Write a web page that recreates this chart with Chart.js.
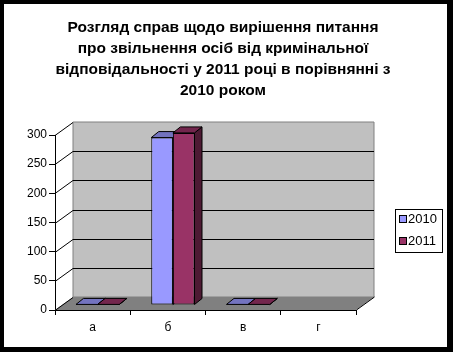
<!DOCTYPE html>
<html>
<head>
<meta charset="utf-8">
<script src="https://cdn.jsdelivr.net/npm/chart.js@4.4.1/dist/chart.umd.min.js"></script>
<style>
  html, body { margin: 0; padding: 0; background: #fff; }
  canvas { display: block; }
</style>
</head>
<body>
<canvas id="chart" width="453" height="352"></canvas>
<script>
// chart data
const categories = ['а', 'б', 'в', 'г'];
const seriesNames = ['2010', '2011'];
const values2010 = [1, 287, 1, null];
const values2011 = [1, 295, 1, null];
const titleLines = [
    'Розгляд справ щодо вирішення питання',
    'про звільнення осіб від кримінальної',
    'відповідальності у 2011 році в порівнянні з',
    '2010 роком'
];

const FONT = "'Liberation Sans', Arial, sans-serif";
const DEPTH_X = 18, DEPTH_Y = 13;   // front plane -> back wall
const BAR_X = 5, BAR_Y = 5;         // front plane -> bar plane
const BAR_DX = 7.5, BAR_DY = 6;     // depth of a single bar

const faceColors = [
    { front: '#9999FF', top: '#7373BF', side: '#4D4D80' },
    { front: '#993366', top: '#73264D', side: '#4D1A33' }
];

function poly(ctx, pts, fill, stroke) {
    ctx.beginPath();
    ctx.moveTo(pts[0][0], pts[0][1]);
    for (let i = 1; i < pts.length; i++) ctx.lineTo(pts[i][0], pts[i][1]);
    ctx.closePath();
    if (fill) { ctx.fillStyle = fill; ctx.fill(); }
    if (stroke) { ctx.strokeStyle = stroke; ctx.lineWidth = 1; ctx.stroke(); }
}

// frame, title, walls, floor, legend and the 3d faces of the bars
const threeD = {
    id: 'threeD',
    beforeDraw(chart) {
        const ctx = chart.ctx;
        ctx.save();
        ctx.fillStyle = '#000';
        ctx.fillRect(0, 0, chart.width, chart.height);
        ctx.fillStyle = '#fff';
        ctx.fillRect(4, 4, 443, 343);
        // title, centred on the whole picture
        ctx.fillStyle = '#000';
        ctx.font = 'bold 15.5px ' + FONT;
        ctx.textAlign = 'center';
        ctx.textBaseline = 'middle';
        titleLines.forEach((line, i) => ctx.fillText(line, 223, 28 + i * 21));
        ctx.restore();
    },
    beforeDatasetsDraw(chart) {
        const ctx = chart.ctx;
        const { left: L, right: R, top: T, bottom: B } = chart.chartArea;
        const y = chart.scales.y;
        ctx.save();
        // back wall
        poly(ctx, [[L + DEPTH_X, T - DEPTH_Y], [R + DEPTH_X, T - DEPTH_Y],
                   [R + DEPTH_X, B - DEPTH_Y], [L + DEPTH_X, B - DEPTH_Y]], '#C0C0C0', '#808080');
        // floor
        poly(ctx, [[L, B], [R, B], [R + DEPTH_X, B - DEPTH_Y], [L + DEPTH_X, B - DEPTH_Y]], '#808080', null);
        ctx.strokeStyle = '#000';
        ctx.lineWidth = 1;
        ctx.beginPath();
        ctx.moveTo(R + 0.5, B);
        ctx.lineTo(R + DEPTH_X + 0.5, B - DEPTH_Y);
        ctx.stroke();
        // grid lines on the back wall + depth lines on the left side
        y.ticks.forEach(t => {
            const py = Math.round(y.getPixelForValue(t.value)) + 0.5;
            ctx.beginPath();
            ctx.moveTo(L, py);
            ctx.lineTo(L + DEPTH_X, py - DEPTH_Y);
            if (t.value > 0 && t.value < y.max) ctx.lineTo(R + DEPTH_X, py - DEPTH_Y);
            ctx.stroke();
        });
        ctx.restore();

        // bar plane: tops and sides first, fronts are drawn by chart.js over them
        ctx.save();
        ctx.translate(BAR_X, -BAR_Y);
        chart.data.datasets.forEach((ds, di) => {
            const meta = chart.getDatasetMeta(di);
            meta.data.forEach((bar, i) => {
                if (ds.data[i] === null || isNaN(bar.y)) return;
                const xl = bar.x - bar.width / 2, xr = bar.x + bar.width / 2;
                const top = bar.y, base = bar.base;
                poly(ctx, [[xr, top], [xr + BAR_DX, top - BAR_DY], [xr + BAR_DX, base - BAR_DY], [xr, base]],
                     faceColors[di].side, '#000');
                poly(ctx, [[xl, top], [xr, top], [xr + BAR_DX, top - BAR_DY], [xl + BAR_DX, top - BAR_DY]],
                     faceColors[di].top, '#000');
            });
        });
    },
    afterDatasetsDraw(chart) {
        chart.ctx.restore();
    },
    afterDraw(chart) {
        // legend box
        const ctx = chart.ctx;
        ctx.save();
        ctx.strokeStyle = '#000';
        ctx.lineWidth = 1;
        ctx.strokeRect(395.5, 209.5, 47, 43);
        ctx.font = '13px ' + FONT;
        ctx.textBaseline = 'middle';
        chart.data.datasets.forEach((ds, i) => {
            const cy = 219 + i * 22;
            ctx.fillStyle = faceColors[i].front;
            ctx.fillRect(399.5, cy - 3.5, 7, 7);
            ctx.strokeRect(399.5, cy - 3.5, 7, 7);
            ctx.fillStyle = '#000';
            ctx.fillText(ds.label, 408, cy + 0.5);
        });
        ctx.restore();
    }
};

new Chart(document.getElementById('chart'), {
    type: 'bar',
    data: {
        labels: categories,
        datasets: [
            { label: seriesNames[0], data: values2010, backgroundColor: faceColors[0].front },
            { label: seriesNames[1], data: values2011, backgroundColor: faceColors[1].front }
        ]
    },
    options: {
        responsive: false,
        animation: false,
        devicePixelRatio: 1,
        layout: { padding: { left: 4, top: 135, right: 97, bottom: 12 } },
        datasets: {
            bar: {
                borderColor: '#000',
                borderWidth: 1,
                borderSkipped: false,
                categoryPercentage: 0.575,
                barPercentage: 1,
                clip: false
            }
        },
        plugins: {
            legend: { display: false },
            tooltip: { enabled: false },
            title: { display: false }
        },
        scales: {
            x: {
                grid: { offset: true, drawOnChartArea: false, tickLength: 5, color: '#000' },
                border: { display: true, color: '#000' },
                ticks: { color: '#000', font: { family: FONT, size: 12 }, padding: 5 },
                afterFit(scale) { scale.height = 30; }
            },
            y: {
                min: 0,
                max: 300,
                grid: { drawOnChartArea: false, tickLength: 6, color: '#000' },
                border: { display: true, color: '#000' },
                ticks: { stepSize: 50, color: '#000', font: { family: FONT, size: 12 }, padding: 2 },
                afterFit(scale) { scale.width = 51; }
            }
        }
    },
    plugins: [threeD]
});
</script>
</body>
</html>
